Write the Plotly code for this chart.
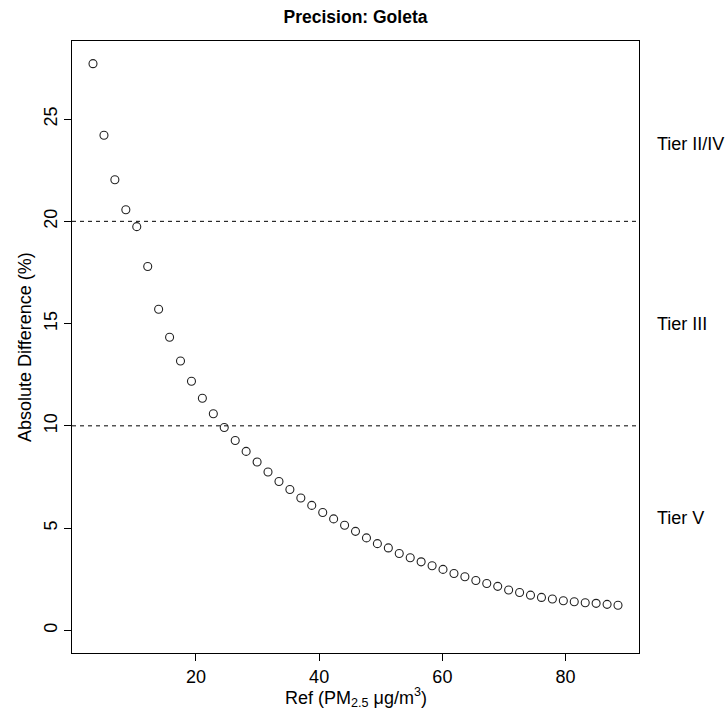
import plotly.graph_objects as go

# Data
ref_pm25 = [3.3, 5.08, 6.85, 8.63, 10.4, 12.18, 13.95, 15.73, 17.5, 19.28,
            21.05, 22.83, 24.6, 26.38, 28.15, 29.93, 31.7, 33.48, 35.25, 37.03,
            38.8, 40.58, 42.35, 44.13, 45.9, 47.68, 49.45, 51.23, 53.0, 54.78,
            56.55, 58.33, 60.1, 61.88, 63.65, 65.43, 67.2, 68.98, 70.75, 72.53,
            74.3, 76.08, 77.85, 79.63, 81.4, 83.18, 84.95, 86.73, 88.5]
abs_diff = [27.71, 24.21, 22.03, 20.57, 19.74, 17.79, 15.70, 14.33, 13.17, 12.18,
            11.35, 10.59, 9.92, 9.28, 8.75, 8.23, 7.74, 7.28, 6.89, 6.47,
            6.11, 5.76, 5.45, 5.14, 4.84, 4.52, 4.24, 4.03, 3.76, 3.55,
            3.35, 3.16, 2.98, 2.78, 2.62, 2.44, 2.29, 2.15, 1.97, 1.85,
            1.72, 1.61, 1.53, 1.45, 1.40, 1.35, 1.32, 1.27, 1.23]
thresholds = [10, 20]
tier_labels = ["Tier II/IV", "Tier III", "Tier V"]
tier_label_y = [23.8, 15.0, 5.5]
x_ticks = [20, 40, 60, 80]
y_ticks = [0, 5, 10, 15, 20, 25]

FONT = "Liberation Sans, Arial, sans-serif"
FS = 18

xmin, xmax = min(ref_pm25), max(ref_pm25)
xpad = 0.04 * (xmax - xmin)
ymin, ymax = 0, max(abs_diff)
ypad = 0.04 * (ymax - ymin)

fig = go.Figure()
fig.add_trace(go.Scatter(
    x=ref_pm25, y=abs_diff, mode="markers",
    marker=dict(symbol="circle-open", size=8, color="#222222", line=dict(width=1.1)),
    showlegend=False, hoverinfo="x+y"))

shapes = []
for t in thresholds:
    shapes.append(dict(type="line", xref="paper", x0=0, x1=1, yref="y", y0=t, y1=t,
                       line=dict(color="black", width=1, dash="4px,4px")))

annotations = []
for lab, yy in zip(tier_labels, tier_label_y):
    annotations.append(dict(text=lab, xref="paper", x=1, xshift=16, xanchor="left",
                            yref="y", y=yy, yanchor="middle", showarrow=False,
                            font=dict(family=FONT, size=FS, color="black")))
annotations.append(dict(text="Ref (PM<sub>2.5</sub> \u03bcg/m<sup>3</sup>)", xref="paper", x=0.5,
                        yref="paper", y=-0.072, yanchor="middle", showarrow=False,
                        font=dict(family=FONT, size=FS, color="black")))
annotations.append(dict(text="Absolute Difference (%)", xref="paper", x=-0.083, xanchor="center",
                        yref="paper", y=0.5, yanchor="middle", textangle=-90, showarrow=False,
                        font=dict(family=FONT, size=FS, color="black")))

fig.update_layout(
    width=725, height=709,
    margin=dict(l=72, r=86, t=41, b=56),
    paper_bgcolor="white", plot_bgcolor="white",
    font=dict(family=FONT, size=FS, color="black"),
    title=dict(text="<b>Precision: Goleta</b>", x=(72 + 639) / 2 / 725, xanchor="center",
               yref="container", y=1 - 17 / 709, yanchor="middle",
               font=dict(family=FONT, size=17.5, color="black")),
    shapes=shapes, annotations=annotations,
    xaxis=dict(range=[xmin - xpad, xmax + xpad], tickvals=x_ticks, ticks="outside", ticklen=7,
               tickcolor="black", showgrid=False, zeroline=False, showline=True, linecolor="black",
               linewidth=1, mirror=True, tickfont=dict(family=FONT, size=FS, color="black")),
    yaxis=dict(range=[ymin - ypad, ymax + ypad], tickvals=y_ticks, ticks="outside", ticklen=7,
               tickcolor="black", showgrid=False, zeroline=False, showline=True, linecolor="black",
               linewidth=1, mirror=True, tickangle=-90,
               tickfont=dict(family=FONT, size=FS, color="black")),
)

fig.write_html("out.html")
